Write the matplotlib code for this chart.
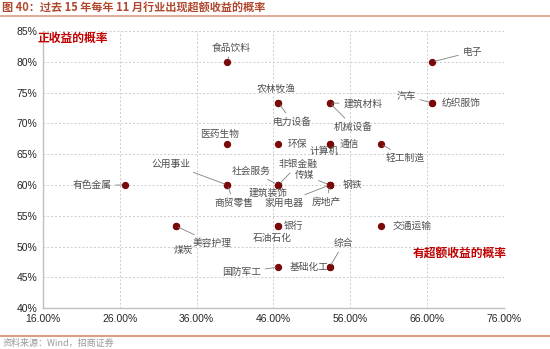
import matplotlib
matplotlib.use("Agg")
import matplotlib.pyplot as plt
from matplotlib.ticker import FuncFormatter

plt.rcParams["font.family"] = ["Noto Sans CJK SC", "DejaVu Sans"]

###############################################################
# data - probability over the past 15 Novembers
###############################################################
industries = ["食品饮料", "电子", "农林牧渔", "电力设备", "建筑材料", "机械设备",
              "汽车", "纺织服饰", "医药生物", "环保", "通信", "计算机", "轻工制造",
              "有色金属", "公用事业", "商贸零售", "社会服务", "建筑装饰", "非银金融",
              "传媒", "家用电器", "钢铁", "房地产", "煤炭", "美容护理", "银行",
              "石油石化", "交通运输", "国防军工", "基础化工", "综合"]
# probability of excess return (%)
excess_prob = [40.00, 66.67, 46.67, 46.67, 53.33, 53.33,
               66.67, 66.67, 40.00, 46.67, 53.33, 53.33, 60.00,
               26.67, 40.00, 40.00, 46.67, 46.67, 46.67,
               53.33, 53.33, 53.33, 53.33, 33.33, 33.33, 46.67,
               46.67, 60.00, 46.67, 53.33, 53.33]
# probability of positive return (%)
positive_prob = [80.00, 80.00, 73.33, 73.33, 73.33, 73.33,
                 73.33, 73.33, 66.67, 66.67, 66.67, 66.67, 66.67,
                 60.00, 60.00, 60.00, 60.00, 60.00, 60.00,
                 60.00, 60.00, 60.00, 60.00, 53.33, 53.33, 53.33,
                 53.33, 53.33, 46.67, 46.67, 46.67]

# label placement (pixel offsets from the point) and leader line flag
label_dx = [4, 40, -2, 14, 33, 24, -26, 29, -8, 19, 20, -5, 24,
            -33, -56, 7, -27, -10, 20, -25, -46, 23, -3, 7, 36, 15,
            -6, 31, -37, -20, 14]
label_dy = [14, 10, 14, -19, -1, -24, 7, 0, 10, 0, 0, -7, -14,
            0, 21, -18, 14, -8, 21, 10, -18, 0, -17, -24, -17, 0,
            -12, 0, -5, 0, 24]
leader = [1, 1, 0, 1, 1, 1, 1, 0, 0, 0, 0, 0, 1,
          1, 1, 1, 1, 0, 1, 1, 1, 0, 1, 0, 1, 0,
          0, 0, 1, 0, 1]

x_ticks = [16, 26, 36, 46, 56, 66, 76]
y_ticks = [40, 45, 50, 55, 60, 65, 70, 75, 80, 85]

###############################################################
# plot
###############################################################
fig = plt.figure(figsize=(5.5, 3.49), dpi=100)
ax = fig.add_axes([0.078, 0.117, 0.838, 0.794])

ax.scatter(excess_prob, positive_prob, s=18, color="#7a0a0a", zorder=3)

for name, x, y, dx, dy, ld in zip(industries, excess_prob, positive_prob,
                                  label_dx, label_dy, leader):
    arrow = dict(arrowstyle="-", color="#808080", lw=0.6,
                 shrinkA=1, shrinkB=2) if ld else None
    ax.annotate(name, (x, y), xytext=(dx, dy), textcoords="offset pixels",
                ha="center", va="center", fontsize=7, color="#505050",
                arrowprops=arrow, zorder=4)

ax.set_xlim(16, 76)
ax.set_ylim(40, 85)
ax.set_xticks(x_ticks)
ax.set_yticks(y_ticks)
ax.xaxis.set_major_formatter(FuncFormatter(lambda v, p: f"{v:.2f}%"))
ax.yaxis.set_major_formatter(FuncFormatter(lambda v, p: f"{v:.0f}%"))
ax.tick_params(length=0, labelsize=7.5, colors="#262626", pad=4)
for lbl in ax.get_xticklabels() + ax.get_yticklabels():
    lbl.set_family(["Liberation Sans", "DejaVu Sans"])

ax.grid(True, linestyle=(0, (2, 2)), color="#cccccc", lw=0.7)
ax.set_axisbelow(True)
for side in ["top", "right"]:
    ax.spines[side].set_visible(False)
for side in ["left", "bottom"]:
    ax.spines[side].set_color("#bfbfbf")
    ax.spines[side].set_linewidth(1.0)

# corner notes
ax.text(-0.011, 0.972, "正收益的概率", transform=ax.transAxes, ha="left", va="center",
        fontsize=8.5, color="#c00000", fontweight="bold")
ax.text(0.905, 0.199, "有超额收益的概率", transform=ax.transAxes, ha="center",
        va="center", fontsize=8.5, color="#c00000", fontweight="bold")

# title, rules and source
fig.text(0.004, 0.975, "图 40：过去 15 年每年 11 月行业出现超额收益的概率",
         ha="left", va="center", fontsize=8, color="#b0482e", fontweight="bold")
fig.add_artist(plt.Line2D([0, 1], [0.955, 0.955], color="#dc9d86", lw=1.2))
fig.add_artist(plt.Line2D([0, 1], [0.037, 0.037], color="#dc9d86", lw=1.5))
fig.text(0.004, 0.015, "资料来源：Wind，招商证券", ha="left", va="center",
         fontsize=6.5, color="#999999")

plt.savefig("out.png", dpi=100)
